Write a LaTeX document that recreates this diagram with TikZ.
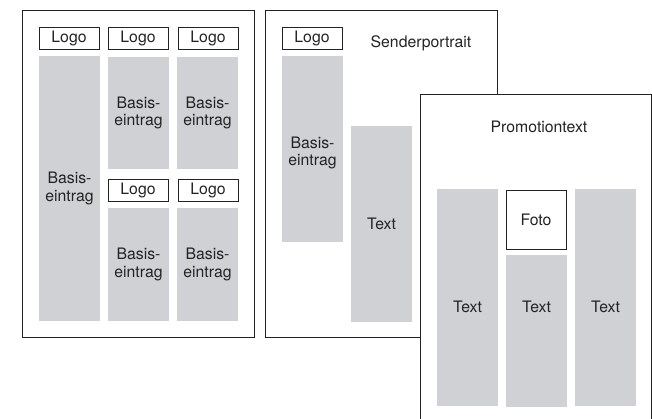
\documentclass[tikz,border=0pt]{standalone}
\usepackage{fontspec}
\setmainfont{TeX Gyre Heros}
\definecolor{feldgrau}{RGB}{208,209,212}
\definecolor{strich}{RGB}{35,35,35}

\begin{document}
\begin{tikzpicture}[x=1pt,y=-1pt,
    font=\fontsize{15.8}{17.5}\selectfont,text=strich,
    rahmen/.style={draw=strich,line width=0.9pt},
    logo/.style={draw=strich,line width=0.9pt,fill=white,minimum width=60pt,%
      minimum height=22pt,inner sep=0pt},
    feld/.style={fill=feldgrau,minimum width=61pt,inner sep=0pt,align=center}]
      \useasboundingbox (0,0) rectangle (652,418) ;
      % Seite 1
      \draw[rahmen] (22,10) rectangle (254,337) ;
      \node[logo] (L1) at (69,38) {Logo} ;
      \node[logo] (L2) at (138,38) {Logo} ;
      \node[logo] (L3) at (208,38) {Logo} ;
      \node[feld,minimum height=265pt] (B1) at (69.5,188.5) {Basis-\\eintrag} ;
      \node[feld,minimum height=112pt] (B2) at (138.5,113) {Basis-\\eintrag} ;
      \node[feld,minimum height=112pt] (B3) at (207.5,113) {Basis-\\eintrag} ;
      \node[logo] (L4) at (138,190) {Logo} ;
      \node[logo] (L5) at (208,190) {Logo} ;
      \node[feld,minimum height=113pt] (B4) at (138.5,264.5) {Basis-\\eintrag} ;
      \node[feld,minimum height=113pt] (B5) at (207.5,264.5) {Basis-\\eintrag} ;
      % Seite 2
      \draw[rahmen] (265,10) rectangle (497,337) ;
      \node[logo] (L6) at (312,38) {Logo} ;
      \node (SP) at (421,43) {Senderportrait} ;
      \node[feld,minimum height=186pt] (B6) at (312.5,149) {} ;
      \node[align=center] (B6t) at (312.5,153) {Basis-\\eintrag} ;
      \node[feld,minimum height=196pt] (T1) at (381.5,224) {Text} ;
      % Seite 3
      \begin{scope}
      \clip (0,0) rectangle (652,418) ;
      \draw[rahmen,fill=white] (420,94) rectangle (651.5,430) ;
      \end{scope}
      \node (PT) at (539,127) {Promotiontext} ;
      \node[feld,minimum height=217pt] (T2) at (467.5,297.5) {} ;
      \node[logo,minimum height=59pt] (F) at (536,219.5) {Foto} ;
      \node[feld,minimum height=152pt] (T3) at (536.5,331) {} ;
      \node[feld,minimum height=217pt] (T4) at (605.5,297.5) {} ;
      \node (T2t) at (467.5,307) {Text} ;
      \node (T3t) at (536.5,307) {Text} ;
      \node (T4t) at (605.5,307) {Text} ;
    \end{tikzpicture}
\end{document}
